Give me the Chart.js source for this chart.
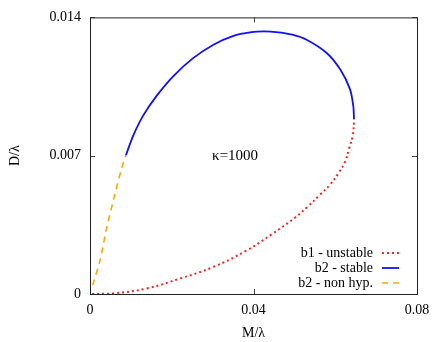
<!DOCTYPE html>
<html>
<head>
<meta charset="utf-8">
<script src="https://cdn.jsdelivr.net/npm/chart.js@4"></script>
<style>
  html, body { margin: 0; padding: 0; background: #fff; }
  #wrap { width: 444px; height: 342px; }
</style>
</head>
<body>
<div id="wrap"><canvas id="chart"></canvas></div>
<script>
// --- DATA ---
const seriesLabels = ['b1 - unstable', 'b2 - stable', 'b2 - non hyp.'];

const unstableM = [0.0005, 0.0057, 0.0139, 0.022, 0.0302, 0.0383, 0.0445, 0.0502, 0.0534, 0.0563, 0.0587, 0.0608, 0.0624, 0.0634, 0.0643, 0.0646];
const unstableD = [0.0, 0.00003, 0.00028, 0.00078, 0.00137, 0.0022, 0.00303, 0.00387, 0.00445, 0.00503, 0.00553, 0.00612, 0.0067, 0.00737, 0.00804, 0.00879];

const stableM = [0.0088, 0.0106, 0.013, 0.0163, 0.0204, 0.0253, 0.0302, 0.0351, 0.0395, 0.0425, 0.0455, 0.0495, 0.053, 0.0579, 0.0612, 0.0636, 0.0644, 0.0646];
const stableD = [0.00703, 0.00803, 0.00903, 0.01003, 0.01103, 0.01195, 0.01262, 0.01307, 0.01325, 0.01329, 0.01326, 0.01313, 0.01287, 0.0122, 0.01137, 0.01037, 0.00953, 0.00884];

const nonHypM = [0.00066, 0.00245, 0.0041, 0.0061, 0.00775, 0.0088];
const nonHypD = [0.00045, 0.0017, 0.00337, 0.00505, 0.00637, 0.00703];

const xTicks = [0, 0.04, 0.08];
const yTicks = [0, 0.007, 0.014];

const annotationText = 'κ=1000';

// --- HELPERS ---
const toPoints = (xs, ys) => xs.map((x, i) => ({ x: x, y: ys[i] }));
const serif = "'Liberation Serif', 'DejaVu Serif', serif";

// inward ticks on all four sides, gnuplot style
const frameTicks = {
    id: 'frameTicks',
    afterDraw(chart) {
        const ctx = chart.ctx;
        const a = chart.chartArea;
        const xs = chart.scales.x, ys = chart.scales.y;
        ctx.save();
        ctx.strokeStyle = '#444';
        ctx.lineWidth = 1;
        ctx.beginPath();
        xTicks.forEach(v => {
            const px = Math.round(xs.getPixelForValue(v)) + 0.5;
            ctx.moveTo(px, a.bottom); ctx.lineTo(px, a.bottom - 5);
            ctx.moveTo(px, a.top); ctx.lineTo(px, a.top + 5);
        });
        yTicks.forEach(v => {
            const py = Math.round(ys.getPixelForValue(v)) + 0.5;
            ctx.moveTo(a.left, py); ctx.lineTo(a.left + 5, py);
            ctx.moveTo(a.right, py); ctx.lineTo(a.right - 5, py);
        });
        ctx.stroke();
        ctx.strokeStyle = '#222';
        ctx.strokeRect(a.left + 0.5, a.top + 0.5, a.right - a.left, a.bottom - a.top);
        ctx.restore();
    }
};

// key in the lower right, text first and then the line sample
const gnuKey = {
    id: 'gnuKey',
    afterDraw(chart) {
        const ctx = chart.ctx;
        const a = chart.chartArea;
        ctx.save();
        ctx.font = '14px ' + serif;
        ctx.fillStyle = '#000';
        ctx.textAlign = 'right';
        ctx.textBaseline = 'middle';
        const textRight = a.right - 44;
        const lineStart = a.right - 35;
        const lineEnd = a.right - 18;
        const baseY = a.bottom - 41;
        chart.data.datasets.forEach((ds, i) => {
            const y = baseY + i * 15;
            ctx.fillText(ds.label, textRight, y);
            ctx.strokeStyle = ds.borderColor;
            ctx.lineWidth = ds.borderWidth;
            ctx.setLineDash(ds.borderDash || []);
            ctx.beginPath();
            ctx.moveTo(lineStart, y);
            ctx.lineTo(lineEnd, y);
            ctx.stroke();
        });
        ctx.setLineDash([]);
        // kappa label
        ctx.font = '15px ' + serif;
        ctx.textAlign = 'center';
        ctx.fillText(annotationText, chart.scales.x.getPixelForValue(0.0355), chart.scales.y.getPixelForValue(0.00696));
        ctx.restore();
    }
};

// --- CHART ---
new Chart(document.getElementById('chart'), {
    type: 'scatter',
    data: {
        datasets: [
            {
                label: seriesLabels[0],
                data: toPoints(unstableM, unstableD),
                showLine: true,
                borderColor: '#ff2020',
                borderWidth: 2,
                borderDash: [2, 3],
                tension: 0.4,
                pointRadius: 0
            },
            {
                label: seriesLabels[1],
                data: toPoints(stableM, stableD),
                showLine: true,
                borderColor: '#1010ff',
                borderWidth: 1.8,
                tension: 0.3,
                pointRadius: 0
            },
            {
                label: seriesLabels[2],
                data: toPoints(nonHypM, nonHypD),
                showLine: true,
                borderColor: '#ffa500',
                borderWidth: 1.6,
                borderDash: [6, 5],
                tension: 0.3,
                pointRadius: 0
            }
        ]
    },
    options: {
        responsive: true,
        maintainAspectRatio: false,
        animation: false,
        layout: { padding: { top: 14, right: 27, left: 0, bottom: 0 } },
        plugins: {
            legend: { display: false },
            tooltip: { enabled: false }
        },
        scales: {
            x: {
                type: 'linear',
                min: 0,
                max: 0.08,
                afterBuildTicks: s => { s.ticks = xTicks.map(v => ({ value: v })); },
                afterFit: s => { s.height = 48; },
                grid: { display: false, drawTicks: false },
                border: { display: false },
                ticks: {
                    color: '#000',
                    padding: 8,
                    maxRotation: 0,
                    font: { family: serif, size: 14 },
                    callback: v => String(v)
                },
                title: {
                    display: true,
                    text: 'M/λ',
                    color: '#000',
                    padding: { top: 2, bottom: 0 },
                    font: { family: serif, size: 14 }
                }
            },
            y: {
                type: 'linear',
                min: 0,
                max: 0.014,
                afterBuildTicks: s => { s.ticks = yTicks.map(v => ({ value: v })); },
                afterFit: s => { s.width = 90; },
                grid: { display: false, drawTicks: false },
                border: { display: false },
                ticks: {
                    color: '#000',
                    padding: 9,
                    font: { family: serif, size: 14 },
                    callback: v => String(v)
                },
                title: {
                    display: true,
                    text: 'D/λ',
                    color: '#000',
                    padding: { top: 7, bottom: 0 },
                    font: { family: serif, size: 14 }
                }
            }
        }
    },
    plugins: [frameTicks, gnuKey]
});
</script>
</body>
</html>
